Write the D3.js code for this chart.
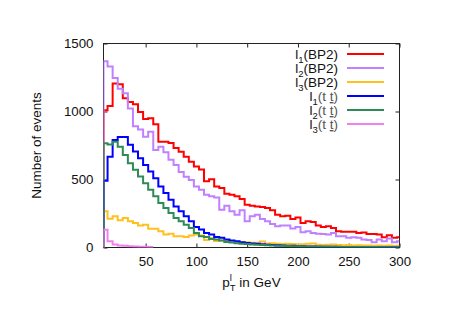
<!DOCTYPE html>
<html>
<head>
<meta charset="utf-8">
<script src="https://cdn.jsdelivr.net/npm/d3@7"></script>
<style>
  body { margin: 0; background: #fff; }
  svg { display: block; font-family: "Liberation Sans", Arial, sans-serif; }
</style>
</head>
<body>
<svg id="chart" width="465" height="329"></svg>
<script>
// bin centres in GeV (5 GeV bins)
const binCentres = [10,15,20,25,30,35,40,45,50,55,60,65,70,75,80,85,90,95,100,105,
  110,115,120,125,130,135,140,145,150,155,160,165,170,175,180,185,190,195,200,205,
  210,215,220,225,230,235,240,245,250,255,260,265,270,275,280,285,290,295,300];

const l1BP2 = [1010,1040,1205,1200,1097,1070,1053,997,944,951,
  907,778,778,768,731,704,668,631,595,573,
  488,502,449,437,395,388,376,356,315,307,
  302,298,290,273,241,229,234,210,220,181,
  193,188,161,151,156,144,119,115,115,115,
  107,110,100,100,95,75,90,71,75];
const l2BP2 = [1370,1331,1246,1168,1134,1022,892,868,814,851,
  717,740,700,645,607,556,520,497,449,424,
  388,376,368,278,307,266,241,273,193,229,
  241,210,193,173,156,161,161,139,151,112,
  119,107,102,100,95,107,83,83,71,75,
  71,58,55,39,58,46,66,39,46];
const l3BP2 = [266,212,229,200,217,193,180,161,168,137,
  137,119,95,102,83,83,78,88,95,88,
  55,70,48,52,50,45,42,40,38,35,
  35,45,30,32,28,25,28,25,22,24,
  28,30,20,18,20,22,18,16,18,15,
  16,14,15,13,14,12,14,11,12];
const l1tt = [490,668,790,812,812,755,705,656,607,558,
  510,449,400,351,302,266,229,193,151,132,
  107,95,78,71,58,51,46,39,34,30,
  27,24,21,19,17,15,13,12,10,9,
  8,7,6,6,5,5,4,4,3,3,
  3,2,2,2,2,1,1,1,1];
const l2tt = [766,758,778,741,680,620,571,522,473,424,
  376,327,290,254,217,193,168,144,107,83,
  78,63,58,51,41,36,32,28,25,22,
  20,18,16,14,13,12,11,10,9,8,
  8,7,7,6,6,5,5,4,4,4,
  3,3,3,3,2,2,2,2,2];
const l3tt = [130,46,22,15,12,10,8,6,5,3];

const xTicks = [50,100,150,200,250,300];
const yTicks = [0,500,1000,1500];

const series = [
  { sub: "1", tag: "BP2", values: l1BP2, color: "#ff0000" },
  { sub: "2", tag: "BP2", values: l2BP2, color: "#c080ff" },
  { sub: "3", tag: "BP2", values: l3BP2, color: "#ffc020" },
  { sub: "1", tag: "tt", values: l1tt, color: "#0000ff" },
  { sub: "2", tag: "tt", values: l2tt, color: "#2e8b57" },
  { sub: "3", tag: "tt", values: l3tt, color: "#f080f0" }
];

const margin = { top: 43.5, right: 65.5, bottom: 81.5, left: 103.5 };
const width = 465, height = 329;
const svg = d3.select("#chart");

const xMin = 8.5, xMax = 300, half = 2.5;
const x = d3.scaleLinear().domain([xMin, xMax]).range([margin.left, width - margin.right]);
const y = d3.scaleLinear().domain([0, 1500]).range([height - margin.bottom, margin.top]);

svg.append("clipPath").attr("id", "plot-clip")
  .append("rect")
  .attr("x", x(xMin)).attr("y", y(1500) - 2)
  .attr("width", x(xMax) - x(xMin)).attr("height", y(0) - y(1500) + 2);

// axes, ticks pointing inwards and mirrored
const tickFont = "13.3px";
const fmt = d3.format("d");
svg.append("g")
  .attr("transform", `translate(0,${y(0)})`)
  .call(d3.axisBottom(x).tickValues(xTicks).tickFormat(fmt).tickSize(-4).tickPadding(9))
  .call(g => g.select(".domain").remove());
svg.append("g")
  .attr("transform", `translate(0,${y(1500)})`)
  .call(d3.axisTop(x).tickValues(xTicks).tickSize(-4).tickFormat(""))
  .call(g => g.select(".domain").remove());
svg.append("g")
  .attr("transform", `translate(${x(xMin)},0)`)
  .call(d3.axisLeft(y).tickValues(yTicks).tickFormat(fmt).tickSize(-4).tickPadding(10))
  .call(g => g.select(".domain").remove());
svg.append("g")
  .attr("transform", `translate(${x(xMax)},0)`)
  .call(d3.axisRight(y).tickValues(yTicks).tickSize(-4).tickFormat(""))
  .call(g => g.select(".domain").remove());
svg.selectAll(".tick line").attr("stroke", "#222");
svg.selectAll(".tick text").attr("font-size", tickFont).attr("fill", "#111")
  .attr("font-family", "Liberation Sans, Arial, sans-serif");

svg.append("rect")
  .attr("x", x(xMin)).attr("y", y(1500))
  .attr("width", x(xMax) - x(xMin)).attr("height", y(0) - y(1500))
  .attr("fill", "none").attr("stroke", "#222").attr("stroke-width", 1);

// histogram steps
const line = d3.line().x(d => x(d[0])).y(d => y(d[1]));
function stepPoints(values) {
  const pts = [[xMin, 0]];
  values.forEach((v, i) => {
    const c = binCentres[i];
    pts.push([Math.max(c - half, xMin), v]);
    pts.push([Math.min(c + half, xMax), v]);
  });
  return pts;
}
const plot = svg.append("g").attr("clip-path", "url(#plot-clip)");
series.forEach(s => {
  plot.append("path")
    .attr("d", line(stepPoints(s.values)))
    .attr("fill", "none")
    .attr("stroke", s.color)
    .attr("stroke-width", 2)
    .attr("stroke-linejoin", "miter");
});

// legend
const legendTextX = 338, legendLine = [347, 384], legendY = 54, legendStep = 14;
series.forEach((s, i) => {
  const ly = legendY + i * legendStep;
  svg.append("line")
    .attr("x1", legendLine[0]).attr("x2", legendLine[1])
    .attr("y1", ly).attr("y2", ly)
    .attr("stroke", s.color).attr("stroke-width", 2);
  const t = svg.append("text")
    .attr("x", legendTextX).attr("y", ly + 5)
    .attr("text-anchor", "end")
    .attr("font-size", "13.5px").attr("fill", "#111");
  t.append("tspan").text("l");
  t.append("tspan").attr("font-size", "9.5px").attr("dy", 4).text(s.sub);
  if (s.tag === "BP2") {
    t.append("tspan").attr("dy", -4).text("(BP2)");
  } else {
    t.append("tspan").attr("dy", -4).attr("fill", "#555").text("(t ");
    t.append("tspan").attr("fill", "#555").style("text-decoration", "underline").text("t");
    t.append("tspan").attr("fill", "#555").text(")");
  }
});

// axis labels
svg.append("text")
  .attr("transform", `translate(41,${(y(0) + y(1500)) / 2}) rotate(-90)`)
  .attr("text-anchor", "middle")
  .attr("font-size", "13.5px").attr("fill", "#111")
  .text("Number of events");

const xl = svg.append("text")
  .attr("x", (x(xMin) + x(xMax)) / 2).attr("y", 287)
  .attr("text-anchor", "middle")
  .attr("font-size", "13.5px").attr("fill", "#111");
xl.append("tspan").text("p");
xl.append("tspan").attr("font-size", "9.5px").attr("dy", -6).text("l");
xl.append("tspan").attr("font-size", "9.5px").attr("dx", -2.2).attr("dy", 10).text("T");
xl.append("tspan").attr("dy", -4).text(" in GeV");
</script>
</body>
</html>
